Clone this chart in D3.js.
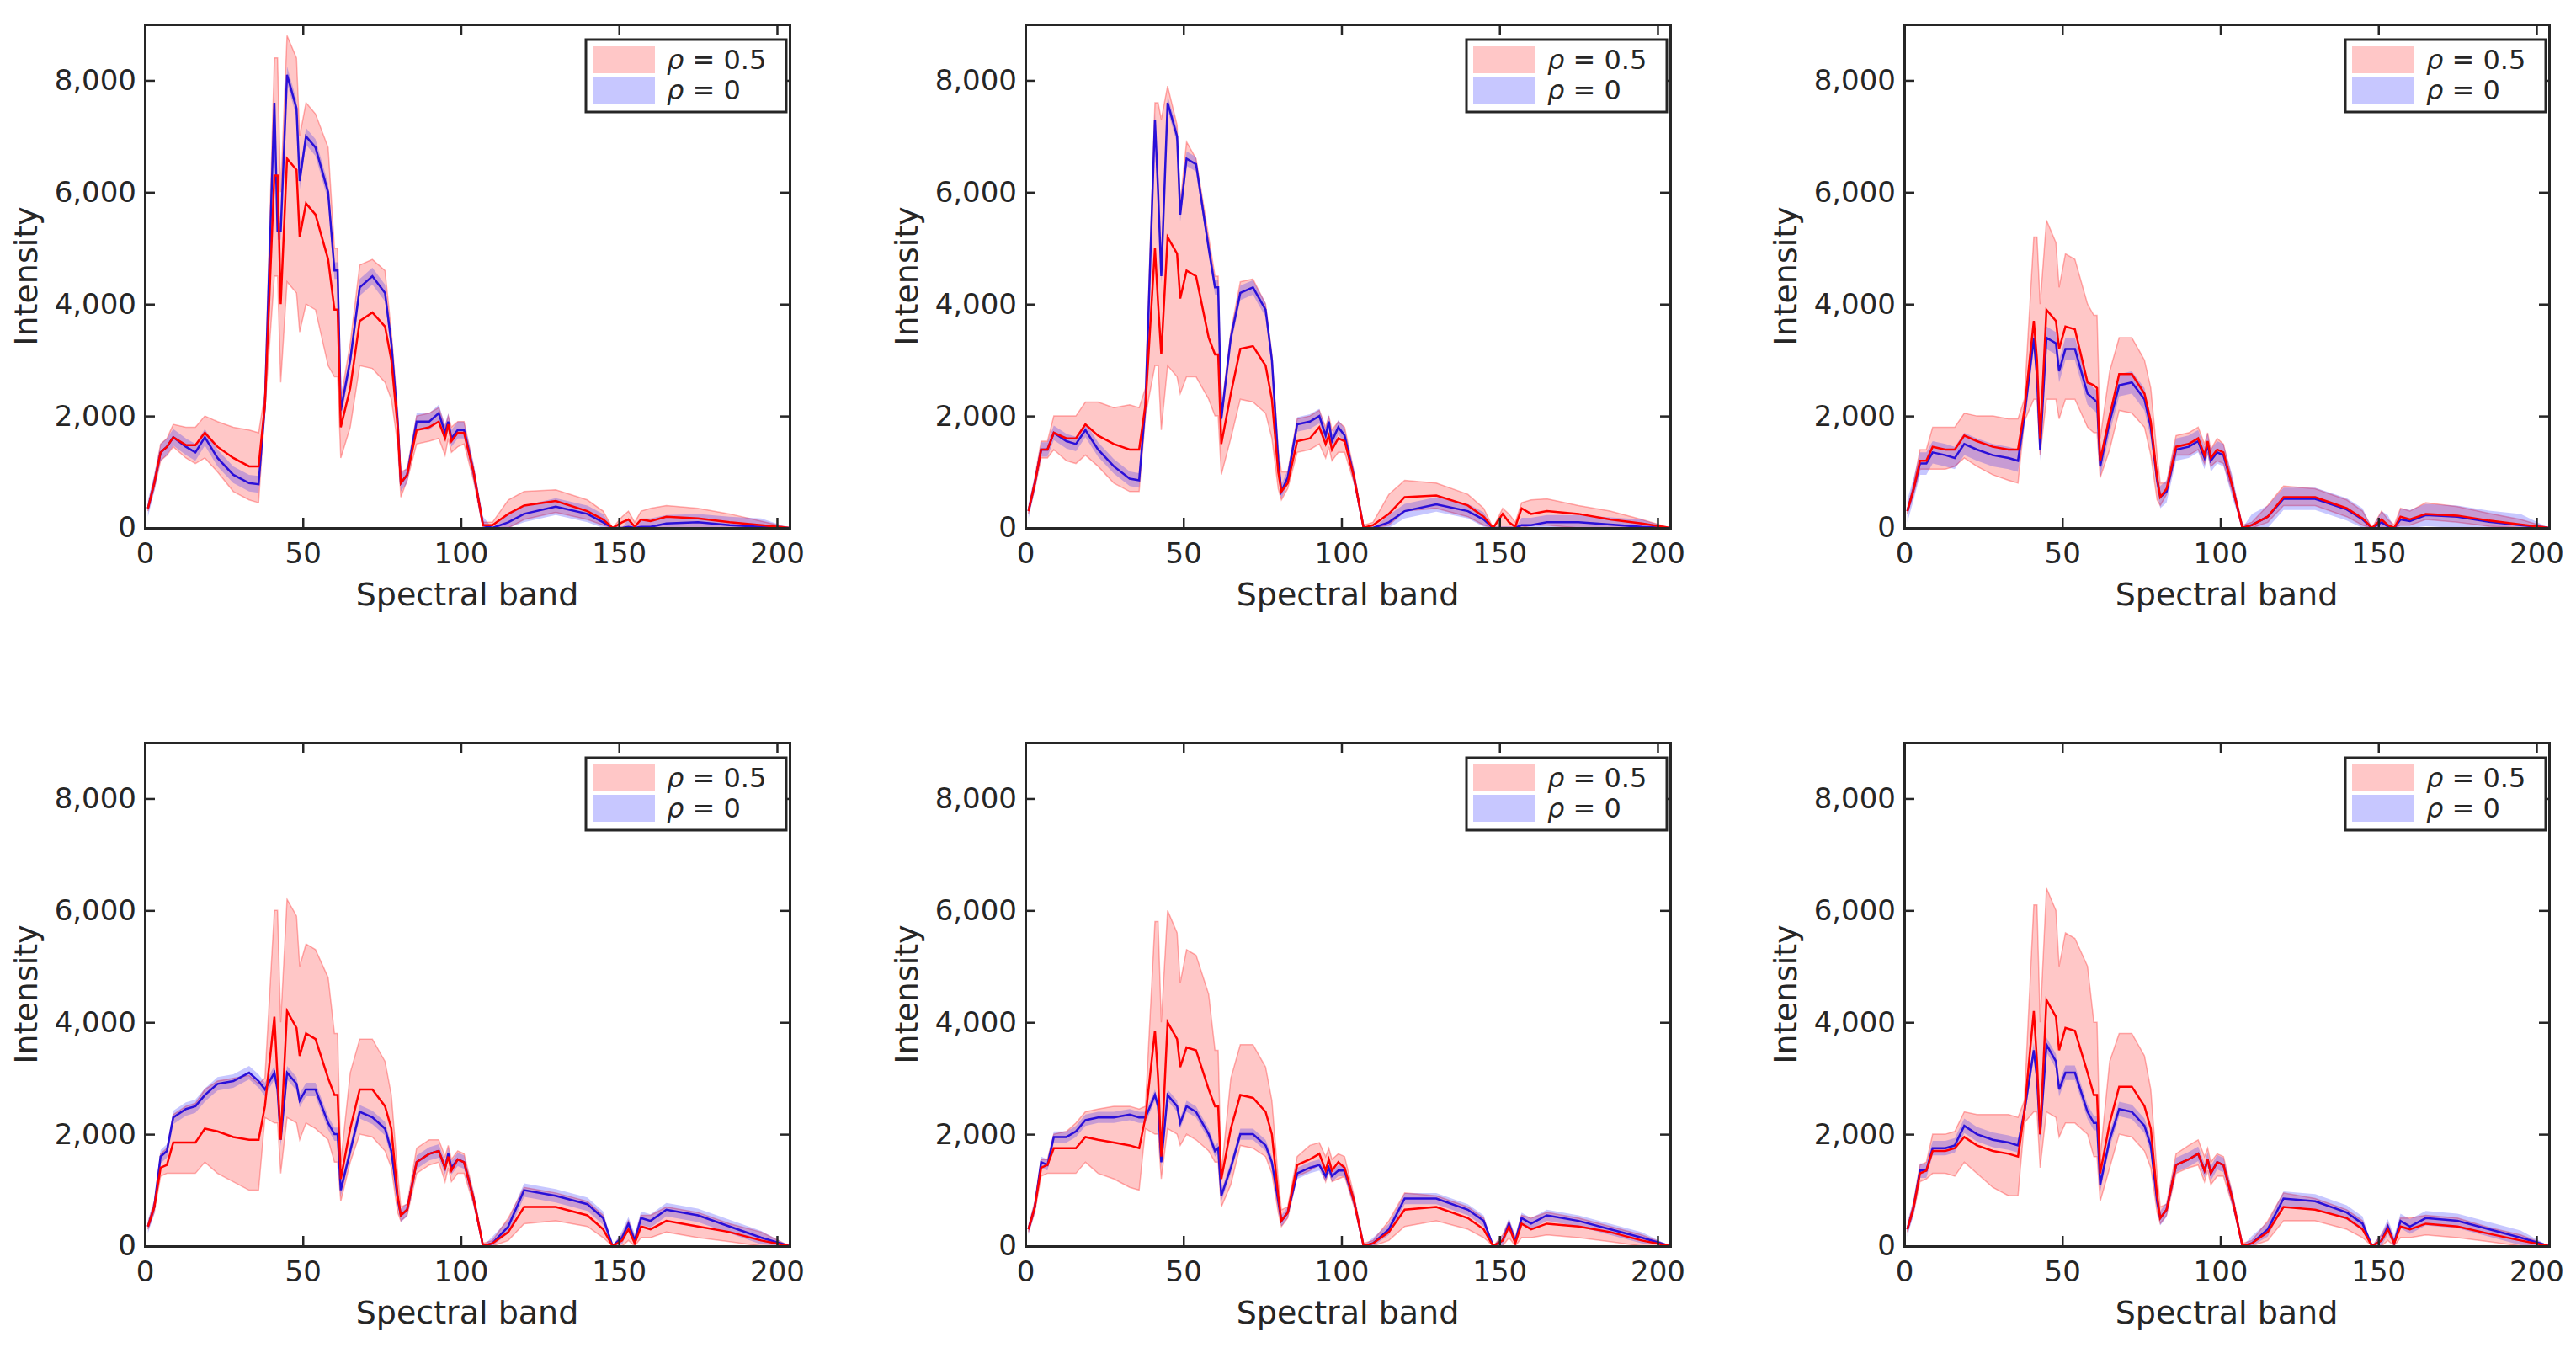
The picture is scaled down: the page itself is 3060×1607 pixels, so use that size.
<!DOCTYPE html>
<html>
<head>
<meta charset="utf-8">
<script src="https://cdn.jsdelivr.net/npm/d3@7"></script>
<style>
  body { margin: 0; background: #fff; }
  text { font-family: "DejaVu Sans", sans-serif; fill: #262626; }
</style>
</head>
<body>
<svg id="chart" width="3060" height="1607"></svg>
<script>
const bands = [1,3,5,7,9,13,16,19,23,28,33,36,38,41,42,43,45,48,49,51,54,58,60,61,62,65,68,72,76,78,80,81,83,86,90,93,95,96,97,99,101,104,107,110,115,120,130,140,145,148,151,153,155,157,160,165,175,185,195,204];

const xTicks = [0, 50, 100, 150, 200];
const yTicks = [0, 2000, 4000, 6000, 8000];
const legendLabels = ["0.5", "0"];

// rho = 0.5 (red): mean, lower, upper ; rho = 0 (blue): mean, half width
const red1 = [350,800,1350,1450,1620,1480,1480,1700,1450,1250,1100,1100,2200,6300,6300,4000,6600,6400,5200,5800,5600,4800,3900,3900,1800,2500,3700,3850,3600,3000,1800,800,950,1750,1800,1900,1600,1850,1550,1700,1700,1000,50,50,250,400,480,300,150,0,100,150,20,150,120,200,170,100,50,0];
const redLo1 = [300,700,1200,1300,1450,1250,1150,1250,1000,650,500,450,2100,4500,4500,2600,4400,4200,3500,4000,3900,2900,2700,2700,1250,1800,2900,2850,2600,2300,1500,550,850,1500,1550,1600,1300,1600,1350,1450,1500,850,0,0,0,150,280,150,50,0,0,0,0,0,0,0,0,0,0,0];
const redHi1 = [400,900,1500,1600,1850,1800,1800,2000,1900,1800,1750,1700,2400,8400,8400,6000,8800,8400,7000,7600,7400,6800,5000,5000,2300,3300,4700,4800,4600,3500,2100,1000,1050,2000,2050,2150,1800,2000,1800,1900,1900,1100,100,100,500,650,680,500,300,0,200,300,100,300,350,400,350,250,120,0];
const blue1 = [350,800,1350,1450,1620,1450,1350,1620,1250,950,800,780,2200,7600,5300,5300,8100,7500,6200,7000,6800,6000,4600,4600,2100,3000,4300,4500,4200,3300,1900,800,950,1900,1900,2050,1700,1900,1600,1750,1750,1000,50,0,100,250,380,250,100,0,0,20,0,20,20,80,100,50,20,0];

const red2 = [300,800,1400,1400,1700,1600,1600,1850,1650,1500,1400,1400,2200,5000,4000,3100,5200,4900,4100,4600,4500,3400,3100,3100,1500,2400,3200,3250,2900,2300,1000,650,800,1550,1600,1800,1500,1650,1400,1600,1550,900,0,50,250,550,580,400,200,0,250,100,20,350,250,300,250,150,80,0];
const redLo2 = [250,700,1250,1250,1400,1200,1150,1300,1100,800,650,650,2000,2900,2900,1750,2900,2700,2400,2700,2700,2300,2000,2000,950,1600,2300,2250,2050,1600,700,500,700,1350,1400,1500,1250,1450,1200,1350,1350,800,0,0,50,300,350,200,50,0,0,0,0,0,50,50,0,0,0,0];
const redHi2 = [350,900,1550,1550,2000,2000,2000,2250,2250,2150,2200,2150,2500,7600,7600,7300,7900,7200,5800,6900,6600,5200,4500,4500,2100,3500,4400,4450,4000,3100,1400,1000,1000,1950,2000,2100,1800,2000,1750,1900,1800,1000,50,100,600,850,800,600,350,0,350,250,100,450,500,520,400,300,150,0];
const blue2 = [300,800,1400,1400,1700,1550,1500,1750,1400,1100,880,850,2200,7300,6000,4500,7600,7000,5600,6600,6500,5000,4300,4300,1950,3400,4200,4300,3900,3000,1200,650,900,1850,1900,2000,1650,1900,1550,1800,1650,900,0,0,100,300,420,300,150,0,0,0,0,50,50,100,100,60,20,0];

const red3 = [300,700,1200,1200,1450,1400,1400,1650,1550,1450,1400,1400,2100,3700,3000,1600,3900,3700,3200,3600,3550,2600,2550,2500,1200,2000,2750,2750,2400,1900,900,550,700,1450,1500,1600,1300,1550,1250,1400,1350,700,0,50,200,550,550,350,170,0,150,50,0,200,150,250,220,130,60,0];
const redLo3 = [250,600,1050,1050,1050,1050,1100,1250,1100,950,850,800,1900,2300,2300,1300,2300,2300,1950,2300,2300,1800,1700,1700,900,1400,2100,2050,1800,1300,500,400,600,1300,1300,1400,1150,1350,1100,1200,1150,600,0,0,100,400,400,200,50,0,0,0,0,50,50,150,100,30,0,0];
const redHi3 = [350,800,1400,1400,1800,1800,1800,2050,2000,2000,1950,1950,2300,5200,5200,4000,5500,5100,4300,4900,4800,4000,3800,3800,1600,2800,3400,3400,3000,2500,1300,800,800,1650,1700,1800,1500,1700,1400,1600,1500,800,50,100,400,750,700,500,300,0,300,150,50,350,300,450,380,260,150,0];
const blue3 = [300,700,1150,1150,1350,1300,1250,1500,1400,1300,1250,1200,2000,3400,2700,1400,3400,3300,2800,3200,3200,2400,2300,2250,1100,1900,2550,2600,2300,1800,850,550,650,1400,1450,1550,1250,1500,1200,1350,1300,700,0,50,200,520,520,330,150,0,100,30,0,150,120,230,200,110,50,0];

const red4 = [350,700,1400,1450,1850,1850,1850,2100,2050,1950,1900,1900,2500,4100,3000,1900,4200,3900,3400,3800,3700,3000,2700,2700,1200,2100,2800,2800,2500,2100,900,550,650,1500,1650,1700,1400,1600,1350,1550,1500,850,0,50,250,700,700,550,300,0,100,300,50,350,300,450,350,250,100,0];
const redLo4 = [300,600,1250,1300,1300,1300,1300,1500,1300,1150,1000,1000,2300,2200,2200,1300,2300,2200,1900,2200,2100,1900,1500,1500,800,1500,2000,1950,1700,1400,600,450,550,1300,1450,1500,1150,1400,1150,1300,1300,750,0,0,100,400,450,350,150,0,0,100,0,150,150,250,150,80,0,0];
const redHi4 = [400,800,1650,1750,2350,2500,2550,2800,2950,3000,3050,2900,3000,6000,6000,4000,6200,5900,5000,5400,5300,4800,3800,3800,1500,3100,3700,3700,3300,2700,1300,700,750,1750,1900,1900,1600,1800,1550,1700,1650,950,50,100,500,1050,950,800,550,0,200,450,150,550,550,700,600,400,250,0];
const blue4 = [350,700,1600,1700,2300,2450,2500,2700,2900,2950,3100,2950,2800,3100,2800,1900,3100,2900,2600,2800,2800,2200,2000,2000,1000,1700,2400,2300,2100,1700,850,550,650,1500,1650,1700,1400,1650,1400,1550,1500,850,0,50,350,1000,900,750,500,0,150,400,100,500,450,650,550,350,150,0];

const red5 = [300,700,1400,1450,1750,1750,1750,1950,1900,1850,1800,1750,2300,3850,3000,1600,4000,3700,3200,3550,3500,2800,2500,2500,1200,2100,2700,2650,2400,2000,900,450,600,1450,1550,1650,1350,1550,1350,1500,1400,800,0,50,250,650,700,500,300,0,100,350,50,400,300,400,350,250,100,0];
const redLo5 = [250,600,1250,1300,1300,1300,1300,1500,1300,1200,1050,1000,2100,2000,2000,1200,2100,2000,1800,2000,1900,1700,1500,1500,700,1100,1800,1750,1600,1300,600,350,500,1250,1350,1450,1150,1350,1150,1200,1250,700,0,0,100,350,450,300,150,0,0,150,0,150,150,200,150,80,0,0];
const redHi5 = [350,800,1550,1550,2000,2050,2200,2400,2450,2500,2500,2450,2500,5800,5800,4000,6000,5600,4700,5300,5200,4500,3500,3500,1300,3000,3600,3600,3200,2600,1200,650,700,1600,1800,1850,1600,1750,1550,1650,1600,900,50,100,450,950,900,700,500,0,200,450,150,550,500,600,500,350,200,0];
const blue5 = [300,700,1500,1450,1950,1950,2050,2250,2300,2300,2350,2300,2300,2700,2500,1500,2700,2500,2200,2500,2400,2000,1700,1750,900,1400,2000,2000,1800,1500,800,450,600,1300,1400,1450,1250,1400,1250,1350,1350,800,0,50,300,850,850,650,450,0,100,400,80,500,400,550,450,300,150,0];

const red6 = [300,700,1300,1350,1700,1700,1750,1950,1800,1700,1650,1600,2400,4200,3300,2000,4400,4100,3500,3900,3850,3100,2700,2700,1300,2200,2850,2850,2500,2100,900,500,650,1450,1550,1650,1350,1550,1300,1500,1450,800,0,50,250,700,650,500,300,0,100,300,50,350,300,400,350,220,100,0];
const redLo6 = [250,600,1150,1200,1300,1300,1250,1500,1300,1050,900,900,2200,2400,2400,1400,2400,2300,1950,2200,2200,2000,1600,1600,800,1400,2000,1950,1700,1400,600,400,550,1300,1400,1450,1150,1350,1100,1250,1250,700,0,0,100,450,450,300,150,0,0,100,0,150,150,200,150,80,0,0];
const redHi6 = [350,800,1450,1500,2000,2000,2050,2400,2350,2350,2350,2300,2600,6100,6100,4000,6400,6000,5000,5600,5500,5000,4000,4000,1600,3300,3800,3800,3400,2800,1300,700,750,1650,1800,1900,1600,1750,1500,1650,1600,900,50,100,450,950,850,650,450,0,200,400,100,500,500,550,500,330,200,0];
const blue6 = [300,700,1350,1350,1750,1750,1800,2150,2000,1900,1850,1800,2400,3500,3000,2000,3600,3300,2800,3100,3100,2400,2200,2200,1100,1900,2450,2400,2150,1800,800,500,650,1450,1550,1650,1350,1550,1300,1500,1450,800,0,50,300,850,800,600,400,0,100,350,50,450,350,500,450,300,150,0];

const blueHalf = [150, 130, 200, 120, 100, 130];

const panels = [
  [red1, redLo1, redHi1, blue1],
  [red2, redLo2, redHi2, blue2],
  [red3, redLo3, redHi3, blue3],
  [red4, redLo4, redHi4, blue4],
  [red5, redLo5, redHi5, blue5],
  [red6, redLo6, redHi6, blue6]
];

//------------------------------------------------------
// layout
//------------------------------------------------------
const colLeft = [172, 1218, 2262];
const rowTop = [29, 882];
const w = 766, h = 598;
const axisColor = "#262626";

const svg = d3.select("#chart");

panels.forEach(([red, redLo, redHi, blue], i) => {

  const g = svg.append("g")
    .attr("transform", `translate(${colLeft[i % 3]},${rowTop[Math.floor(i / 3)]})`);

  const x = d3.scaleLinear().domain([0, 204]).range([0, w]);
  const y = d3.scaleLinear().domain([0, 9000]).range([h, 0]);

  const area = (lo, hi) => d3.area()
    .x((d, k) => x(bands[k]))
    .y0((d, k) => y(lo[k]))
    .y1((d, k) => y(hi[k]))(bands);

  const line = vals => d3.line()
    .x((d, k) => x(bands[k]))
    .y((d, k) => y(vals[k]))(bands);

  const bLo = blue.map(v => Math.max(0, v - blueHalf[i]));
  const bHi = blue.map(v => v === 0 ? 0 : v + blueHalf[i]);

  g.append("path").attr("d", area(redLo, redHi))
    .attr("fill", "rgba(255,0,0,0.22)").attr("stroke", "rgba(255,0,0,0.3)").attr("stroke-width", 1.5);
  g.append("path").attr("d", area(bLo, bHi))
    .attr("fill", "rgba(0,0,255,0.22)");
  g.append("path").attr("d", line(blue))
    .attr("fill", "none").attr("stroke", "#2a10d8").attr("stroke-width", 2.5);
  g.append("path").attr("d", line(red))
    .attr("fill", "none").attr("stroke", "#ff0000").attr("stroke-width", 2.5);

  // axes (box with inward ticks)
  const bottom = g.append("g").attr("transform", `translate(0,${h})`)
    .call(d3.axisBottom(x).tickValues(xTicks).tickSize(-12).tickPadding(18));
  const left = g.append("g")
    .call(d3.axisLeft(y).tickValues(yTicks).tickSize(-12).tickPadding(10));
  const top = g.append("g")
    .call(d3.axisTop(x).tickValues(xTicks).tickSize(-12).tickFormat(""));
  const right = g.append("g").attr("transform", `translate(${w},0)`)
    .call(d3.axisRight(y).tickValues(yTicks).tickSize(-12).tickFormat(""));

  [bottom, left, top, right].forEach(a => {
    a.select(".domain").attr("stroke", axisColor).attr("stroke-width", 3);
    a.selectAll(".tick line").attr("stroke", axisColor).attr("stroke-width", 2.5);
    a.selectAll(".tick text").attr("font-size", 34).style("fill", axisColor);
  });

  g.append("text")
    .attr("x", w / 2).attr("y", h + 92)
    .attr("text-anchor", "middle").attr("font-size", 38)
    .text("Spectral band");

  g.append("text")
    .attr("transform", `translate(-128,${h / 2}) rotate(-90)`)
    .attr("text-anchor", "middle").attr("font-size", 38)
    .text("Intensity");

  // legend
  const lg = g.append("g").attr("transform", `translate(${w - 242},18)`);
  lg.append("rect").attr("width", 238).attr("height", 86)
    .attr("fill", "#fff").attr("stroke", axisColor).attr("stroke-width", 3);
  ["rgba(255,0,0,0.22)", "rgba(0,0,255,0.22)"].forEach((c, k) => {
    lg.append("rect").attr("x", 8).attr("y", 8 + k * 36).attr("width", 74).attr("height", 32)
      .attr("fill", c);
    const t = lg.append("text").attr("x", 96).attr("y", 35 + k * 36).attr("font-size", 32);
    t.append("tspan").attr("font-style", "italic").text("ρ");
    t.append("tspan").text(` = ${legendLabels[k]}`);
  });
});
</script>
</body>
</html>
